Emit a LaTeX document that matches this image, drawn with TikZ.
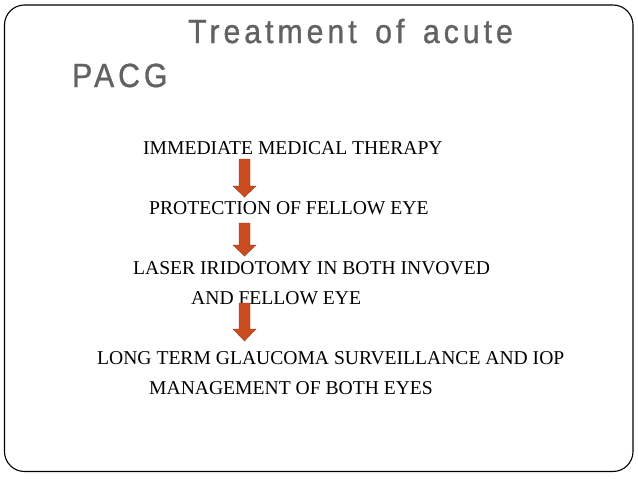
\documentclass[tikz,border=0pt]{standalone}
\usepackage{fontspec}
\setmainfont{Liberation Serif}
\newfontfamily\titlefont{Liberation Sans}[LetterSpace=12,FakeStretch=0.9,FakeBold=1,WordSpace=1.5]
\definecolor{titlegray}{RGB}{98,98,98}
\definecolor{arrowfill}{RGB}{201,76,31}
\definecolor{arrowline}{RGB}{160,55,20}
\tikzset{
  steptext/.style={anchor=base west,inner sep=0pt,font=\fontsize{19.6}{22}\selectfont},
  titletext/.style={anchor=base west,inner sep=0pt,text=titlegray,
    font=\fontsize{33.5}{38}\titlefont},
  blockarrow/.style={fill=arrowfill,draw=arrowline,line width=.4pt}
}
\begin{document}
\begin{tikzpicture}[x=1pt,y=-1pt]
\useasboundingbox (0,0) rectangle (638,479);
\draw[line width=1.1pt,rounded corners=20pt] (4.5,5) rectangle (633,471.5);
% title
\node[titletext] (title1) at (188,43) {Treatment of acute};
\node[titletext] (title2) at (72,87) {PACG};
% steps
\node[steptext] (therapy) at (143,154) {IMMEDIATE MEDICAL THERAPY};
\node[steptext] (fellow) at (149,214) {PROTECTION OF FELLOW EYE};
\node[steptext] (laser) at (133,274) {LASER IRIDOTOMY IN BOTH INVOVED};
\node[steptext] (laserb) at (191,304) {AND FELLOW EYE};
\node[steptext] (longterm) at (97,364) {LONG TERM GLAUCOMA SURVEILLANCE AND IOP};
\node[steptext] (longtermb) at (149,394) {MANAGEMENT OF BOTH EYES};
% arrows
\foreach \t/\b/\p in {159/186/197,223/245/256,303/329/341} {
  \filldraw[blockarrow] (239,\t) -- (250,\t) -- (250,\b) -- (256,\b) -- (244.5,\p)
    -- (233,\b) -- (239,\b) -- cycle;
}
\end{tikzpicture}
\end{document}
